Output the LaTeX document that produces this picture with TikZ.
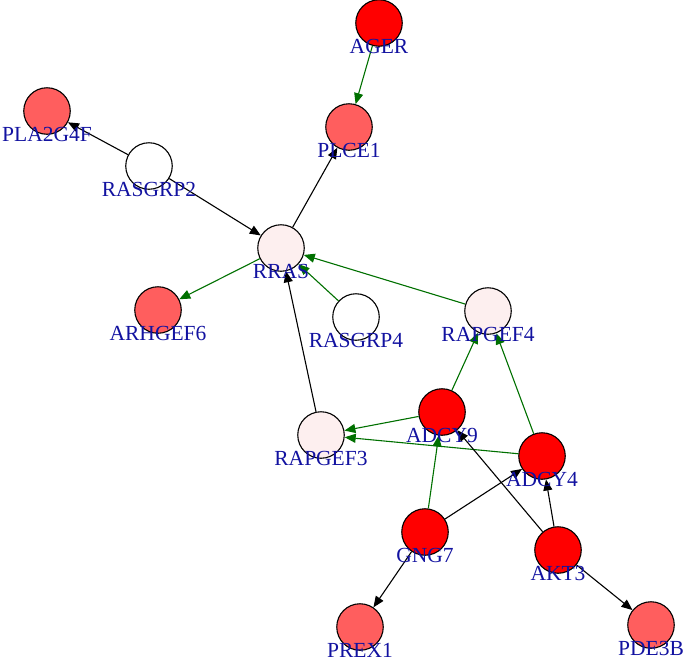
\documentclass[tikz,border=0pt]{standalone}
\usepackage{fontspec}
\setmainfont{Liberation Serif}
\usetikzlibrary{arrows.meta}
\definecolor{lblblue}{RGB}{18,18,160}
\definecolor{edgegreen}{RGB}{0,112,0}
\definecolor{fullred}{RGB}{255,0,0}
\definecolor{salmon}{RGB}{255,94,94}
\definecolor{palepink}{RGB}{253,239,239}
\tikzset{
  gene/.style={circle,draw=black,line width=1.1pt,minimum size=46.5pt,inner sep=0pt},
  redg/.style={gene,fill=fullred},
  salg/.style={gene,fill=salmon},
  pinkg/.style={gene,fill=palepink},
  whiteg/.style={gene,fill=white},
  lbl/.style={anchor=base,text=lblblue,inner sep=0pt,font=\fontsize{21.5}{25}\selectfont},
  blk/.style={draw=black,line width=1.1pt,-{Triangle[length=11pt,width=9pt]}},
  grn/.style={draw=edgegreen,line width=1.1pt,-{Triangle[length=11pt,width=9pt]}}
}
\begin{document}
\begin{tikzpicture}[x=1pt,y=-1pt]
\useasboundingbox (0,0) rectangle (685,659);
% nodes
\node[redg]   (AGER)    at (379,23)  {};
\node[salg]   (PLCE1)   at (349,127) {};
\node[salg]   (PLA2G4F) at (47,111)  {};
\node[whiteg] (RASGRP2) at (149,166) {};
\node[pinkg]  (RRAS)    at (281,248) {};
\node[salg]   (ARHGEF6) at (158,310) {};
\node[whiteg] (RASGRP4) at (356,317) {};
\node[pinkg]  (RAPGEF4) at (488,311) {};
\node[redg]   (ADCY9)   at (442,412) {};
\node[pinkg]  (RAPGEF3) at (321,435) {};
\node[redg]   (ADCY4)   at (542,456) {};
\node[redg]   (GNG7)    at (425,532) {};
\node[redg]   (AKT3)    at (558,550) {};
\node[salg]   (PREX1)   at (360,627) {};
\node[salg]   (PDE3B)   at (651,625) {};
% edges
\draw[grn] (AGER) -- (PLCE1);
\draw[blk] (RASGRP2) -- (PLA2G4F);
\draw[blk] (RASGRP2) -- (RRAS);
\draw[blk] (RRAS) -- (PLCE1);
\draw[grn] (RRAS) -- (ARHGEF6);
\draw[grn] (RASGRP4) -- (RRAS);
\draw[grn] (RAPGEF4) -- (RRAS);
\draw[blk] (RAPGEF3) -- (RRAS);
\draw[grn] (ADCY9) -- (RAPGEF4);
\draw[grn] (ADCY9) -- (RAPGEF3);
\draw[grn] (ADCY4) -- (RAPGEF3);
\draw[grn] (ADCY4) -- (RAPGEF4);
\draw[grn] (GNG7) -- (ADCY9);
\draw[blk] (GNG7) -- (ADCY4);
\draw[blk] (AKT3) -- (ADCY9);
\draw[blk] (AKT3) -- (ADCY4);
\draw[blk] (GNG7) -- (PREX1);
\draw[blk] (AKT3) -- (PDE3B);
% labels
\node[lbl] (lAGER)    at ([yshift=-30pt]AGER.center)    {AGER};
\node[lbl] (lPLCE1)   at ([yshift=-30pt]PLCE1.center)   {PLCE1};
\node[lbl] (lPLA2G4F) at ([yshift=-30pt]PLA2G4F.center) {PLA2G4F};
\node[lbl] (lRASGRP2) at ([yshift=-30pt]RASGRP2.center) {RASGRP2};
\node[lbl] (lRRAS)    at ([yshift=-30pt]RRAS.center)    {RRAS};
\node[lbl] (lARHGEF6) at ([yshift=-30pt]ARHGEF6.center) {ARHGEF6};
\node[lbl] (lRASGRP4) at ([yshift=-30pt]RASGRP4.center) {RASGRP4};
\node[lbl] (lRAPGEF4) at ([yshift=-30pt]RAPGEF4.center) {RAPGEF4};
\node[lbl] (lADCY9)   at ([yshift=-30pt]ADCY9.center)   {ADCY9};
\node[lbl] (lRAPGEF3) at ([yshift=-30pt]RAPGEF3.center) {RAPGEF3};
\node[lbl] (lADCY4)   at ([yshift=-30pt]ADCY4.center)   {ADCY4};
\node[lbl] (lGNG7)    at ([yshift=-30pt]GNG7.center)    {GNG7};
\node[lbl] (lAKT3)    at ([yshift=-30pt]AKT3.center)    {AKT3};
\node[lbl] (lPREX1)   at ([yshift=-30pt]PREX1.center)   {PREX1};
\node[lbl] (lPDE3B)   at ([yshift=-30pt]PDE3B.center)   {PDE3B};
\end{tikzpicture}
\end{document}
